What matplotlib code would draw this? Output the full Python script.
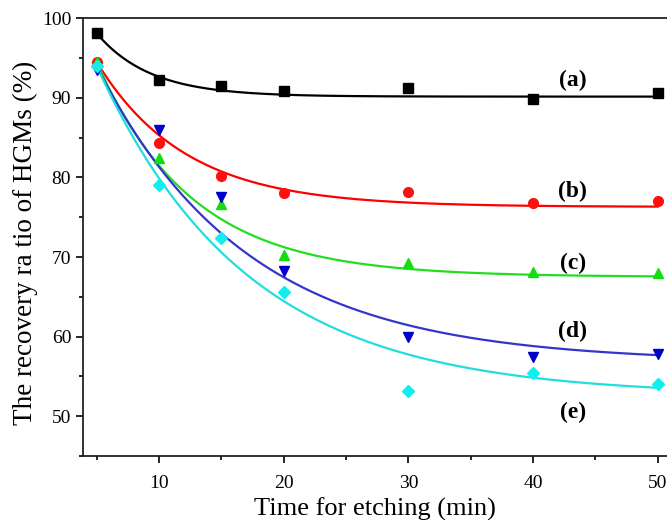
import numpy as np
import matplotlib
matplotlib.use("Agg")
import matplotlib.pyplot as plt
from matplotlib.ticker import MultipleLocator

plt.rcParams["font.family"] = ["Liberation Serif", "DejaVu Serif"]

# -----------------------------
# Data
# -----------------------------
time_min = [5, 10, 15, 20, 30, 40, 50]

ratio_a = [98.1, 92.2, 91.5, 90.9, 91.2, 89.8, 90.6]
ratio_b = [94.5, 84.3, 80.2, 78.0, 78.2, 76.8, 77.0]
ratio_c = [94.5, 82.4, 76.6, 70.2, 69.3, 68.1, 68.0]
ratio_d = [93.5, 86.0, 77.5, 68.3, 59.9, 57.4, 57.8]
ratio_e = [94.0, 79.1, 72.4, 65.6, 53.2, 55.4, 54.0]

# exponential decay fits shown in the figure: y = y0 + A*exp(-(x-5)/t)
fit_y0 = [90.15, 76.3, 67.5, 56.8, 52.6]
fit_amp = [7.95, 18.2, 27.0, 37.2, 41.4]
fit_tau = [4.3, 7.1, 7.6, 12.0, 12.0]

series_labels = ["(a)", "(b)", "(c)", "(d)", "(e)"]
label_y = [92.2, 78.2, 69.2, 60.6, 50.5]

fig = plt.figure(figsize=(6.67, 5.2), dpi=100)
ax = fig.add_axes([0.1244, 0.123, 0.8756, 0.842])

styles = [
    (ratio_a, "black", "black", "s"),
    (ratio_b, "#ff0000", "#ff1010", "o"),
    (ratio_c, "#22dd22", "#11dd11", "^"),
    (ratio_d, "#3535cc", "#0000cc", "v"),
    (ratio_e, "#22dddd", "#11eeee", "D"),
]

xs = np.linspace(time_min[0], time_min[-1], 300)
for i, (vals, line_col, mark_col, mk) in enumerate(styles):
    ys = fit_y0[i] + fit_amp[i] * np.exp(-(xs - time_min[0]) / fit_tau[i])
    ax.plot(xs, ys, color=line_col, lw=1.6, zorder=2)
    ms = 6 if mk == "D" else 7
    ax.plot(time_min, vals, ls="none", marker=mk, color=mark_col, ms=ms, zorder=3)

for lab, yy in zip(series_labels, label_y):
    ax.text(43.2, yy, lab, fontsize=17, fontweight="bold", ha="center", va="center")

ax.set_xlim(3.9, 50.75)
ax.set_ylim(45, 100)
ax.xaxis.set_major_locator(MultipleLocator(10))
ax.xaxis.set_minor_locator(MultipleLocator(5))
ax.yaxis.set_major_locator(MultipleLocator(10))
ax.yaxis.set_minor_locator(MultipleLocator(5))
ax.tick_params(which="both", direction="out", top=False, right=False, width=1.2)
ax.tick_params(which="major", length=5, labelsize=14)
ax.tick_params(axis="x", which="major", pad=9)
ax.tick_params(which="minor", length=3)
ax.spines["right"].set_visible(False)
for s in ["left", "bottom", "top"]:
    ax.spines[s].set_linewidth(1.3)
    ax.spines[s].set_color("#222222")

ax.set_xlabel("Time for etching (min)", fontsize=19, labelpad=4)
ax.set_ylabel("The recovery ra tio of HGMs (%)", fontsize=19.5, labelpad=2.5)
ax.yaxis.label.set_y(0.486)

fig.savefig("out.png", dpi=100)
